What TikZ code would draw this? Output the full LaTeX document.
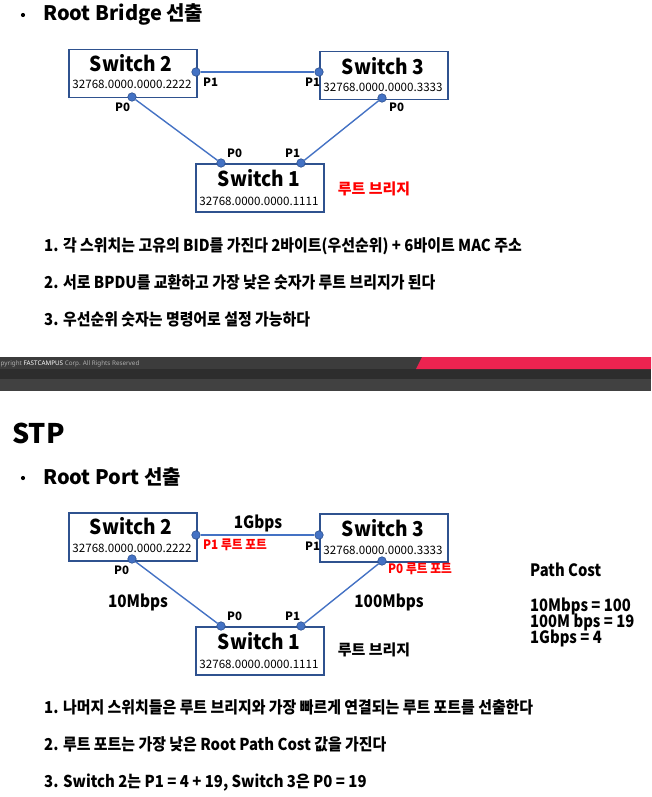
\documentclass[tikz,border=0pt]{standalone}
\usepackage{fontspec}
\newfontfamily\kr{Noto Sans CJK KR}
\newfontfamily\krw{Noto Sans CJK KR}[FakeStretch=0.93]
\newfontfamily\krn{Noto Sans CJK KR}[FakeStretch=0.9]
\newfontfamily\krl{Noto Sans CJK KR}[FakeStretch=0.91]
\newfontfamily\krc{Noto Sans CJK KR}[FakeStretch=0.87]
\newfontfamily\ftr{Noto Sans}
\definecolor{boxblue}{HTML}{2F528F}
\definecolor{linkblue}{HTML}{4472C4}
\definecolor{portedge}{HTML}{2F528F}
\definecolor{barA}{HTML}{3C3C3C}
\definecolor{barB}{HTML}{2D2D2D}
\definecolor{barC}{HTML}{414141}
\definecolor{brandred}{HTML}{EC2350}
\definecolor{txtgray}{HTML}{AEAEAE}
\begin{document}
\begin{tikzpicture}[x=1pt,y=-1pt,
  swbox/.style={draw=boxblue, line width=1.5pt, fill=white, minimum width=128pt,
    minimum height=48pt, inner sep=0pt, anchor=north west},
  swname/.style={anchor=base, inner sep=0pt, font=\krw\bfseries\fontsize{20.5}{22}\selectfont},
  swid/.style={anchor=base, inner sep=0pt, font=\kr\fontsize{11.6}{13}\selectfont},
  port/.style={circle, fill=linkblue, draw=portedge, line width=0.6pt, minimum size=8.5pt, inner sep=0pt},
  link/.style={draw=linkblue, line width=1.4pt},
  plabel/.style={anchor=base west, inner sep=0pt, font=\kr\bfseries\fontsize{11.5}{13}\selectfont},
  rlabel/.style={anchor=base west, inner sep=0pt, text=red, font=\krn\bfseries\fontsize{13}{15}\selectfont},
  title/.style={anchor=base west, inner sep=0pt, font=\kr\bfseries\fontsize{20}{22}\selectfont},
  bulletdot/.style={circle, fill=black, minimum size=4.2pt, inner sep=0pt},
  listline/.style={anchor=base west, inner sep=0pt, font=\krl\bfseries\fontsize{16.4}{18}\selectfont},
  speed/.style={anchor=base, inner sep=0pt, font=\krn\bfseries\fontsize{17}{19}\selectfont},
  costline/.style={anchor=base west, inner sep=0pt, font=\krc\bfseries\fontsize{17}{18}\selectfont},
  rootlabel/.style={anchor=base, inner sep=0pt, font=\kr\bfseries\fontsize{15}{17}\selectfont}]
\useasboundingbox (0,0) rectangle (651,797);

% ---------- Root Bridge ----------
\node[bulletdot] (b1) at (23,15) {};
\node[title] (t1) at (43,21) {Root Bridge 선출};

\node[swbox] (s2) at (68,49) {};
\node[swname] (s2n) at (131,72) {Switch 2};
\node[swid] (s2i) at (132,89) {32768.0000.0000.2222};

\node[swbox] (s3) at (319,51) {};
\node[swname] (s3n) at (383,75) {Switch 3};
\node[swid] (s3i) at (383,92) {32768.0000.0000.3333};

\node[swbox] (s1) at (195,163) {};
\node[swname] (s1n) at (259,186) {Switch 1};
\node[swid] (s1i) at (259,205) {32768.0000.0000.1111};

\node[port] (s2p1) at (196,72) {};
\node[port] (s3p1) at (319,72) {};
\node[port] (s2p0) at (132,97) {};
\node[port] (s3p0) at (382,98) {};
\node[port] (s1p0) at (221,163) {};
\node[port] (s1p1) at (301,163) {};

\draw[link] (s2p1) -- (s3p1);
\draw[link] (s2p0) -- (s1p0);
\draw[link] (s3p0) -- (s1p1);

\node[plabel] at (203,87) {P1};
\node[plabel] at (305,87) {P1};
\node[plabel] at (115,112) {P0};
\node[plabel] at (389,112) {P0};
\node[plabel] at (227,157) {P0};
\node[plabel] at (285,157) {P1};
\node[rootlabel, text=red] (rb1) at (374,194) {루트 브리지};

\node[listline] (l11) at (44,251) {1. 각 스위치는 고유의 BID를 가진다 2바이트(우선순위) + 6바이트 MAC 주소};
\node[listline] (l12) at (44,288) {2. 서로 BPDU를 교환하고 가장 낮은 숫자가 루트 브리지가 된다};
\node[listline] (l13) at (44,325) {3. 우선순위 숫자는 명령어로 설정 가능하다};

% ---------- footer band ----------
\fill[barA] (0,357) rectangle (651,369);
\fill[barB] (0,369) rectangle (651,379);
\fill[barC] (0,379) rectangle (651,391);
\fill[brandred] (422,357) -- (651,357) -- (651,369) -- (416,369) -- cycle;
\node[anchor=base west, inner sep=0pt, text=txtgray, font=\ftr\fontsize{6.3}{7}\selectfont]
  (copy) at (0.5,365.5) {pyright {\bfseries\color{white}FASTCAMPUS} Corp. All Rights Reserved};

% ---------- STP / Root Port ----------
\node[anchor=base west, inner sep=0pt, font=\kr\bfseries\fontsize{27}{30}\selectfont] (stp) at (12,443) {STP};
\node[bulletdot] (b2) at (23,478) {};
\node[title] (t2) at (43,484) {Root Port 선출};

\node[swbox] (u2) at (68,512) {};
\node[swname] (u2n) at (131,534) {Switch 2};
\node[swid] (u2i) at (132,552) {32768.0000.0000.2222};

\node[swbox] (u3) at (319,513) {};
\node[swname] (u3n) at (383,536) {Switch 3};
\node[swid] (u3i) at (383,554) {32768.0000.0000.3333};

\node[swbox] (u1) at (195,626) {};
\node[swname] (u1n) at (259,649) {Switch 1};
\node[swid] (u1i) at (259,668) {32768.0000.0000.1111};

\node[port] (u2p1) at (196,535) {};
\node[port] (u3p1) at (319,535) {};
\node[port] (u2p0) at (132,559) {};
\node[port] (u3p0) at (382,561) {};
\node[port] (u1p0) at (221,626) {};
\node[port] (u1p1) at (301,626) {};

\draw[link] (u2p1) -- (u3p1);
\draw[link] (u2p0) -- (u1p0);
\draw[link] (u3p0) -- (u1p1);

\node[speed] at (258,528) {1Gbps};
\node[speed] at (138,607) {10Mbps};
\node[speed] at (389,607) {100Mbps};

\node[rlabel] at (203,549) {P1 루트 포트};
\node[plabel] at (305,550) {P1};
\node[rlabel] at (388,573) {P0 루트 포트};
\node[plabel] at (114,574) {P0};
\node[plabel] at (227,620) {P0};
\node[plabel] at (285,620) {P1};
\node[rootlabel] (rb2) at (374,655) {루트 브리지};

\node[costline] (pc) at (530,576) {Path Cost};
\node[costline] (c1) at (530,611) {10Mbps = 100};
\node[costline] (c2) at (530,627) {100M bps = 19};
\node[costline] (c3) at (530,643) {1Gbps = 4};

\node[listline] (l21) at (44,713) {1. 나머지 스위치들은 루트 브리지와 가장 빠르게 연결되는 루트 포트를 선출한다};
\node[listline] (l22) at (44,750) {2. 루트 포트는 가장 낮은 Root Path Cost 값을 가진다};
\node[listline] (l23) at (44,787) {3. Switch 2는 P1 = 4 + 19, Switch 3은 P0 = 19};
\end{tikzpicture}
\end{document}
